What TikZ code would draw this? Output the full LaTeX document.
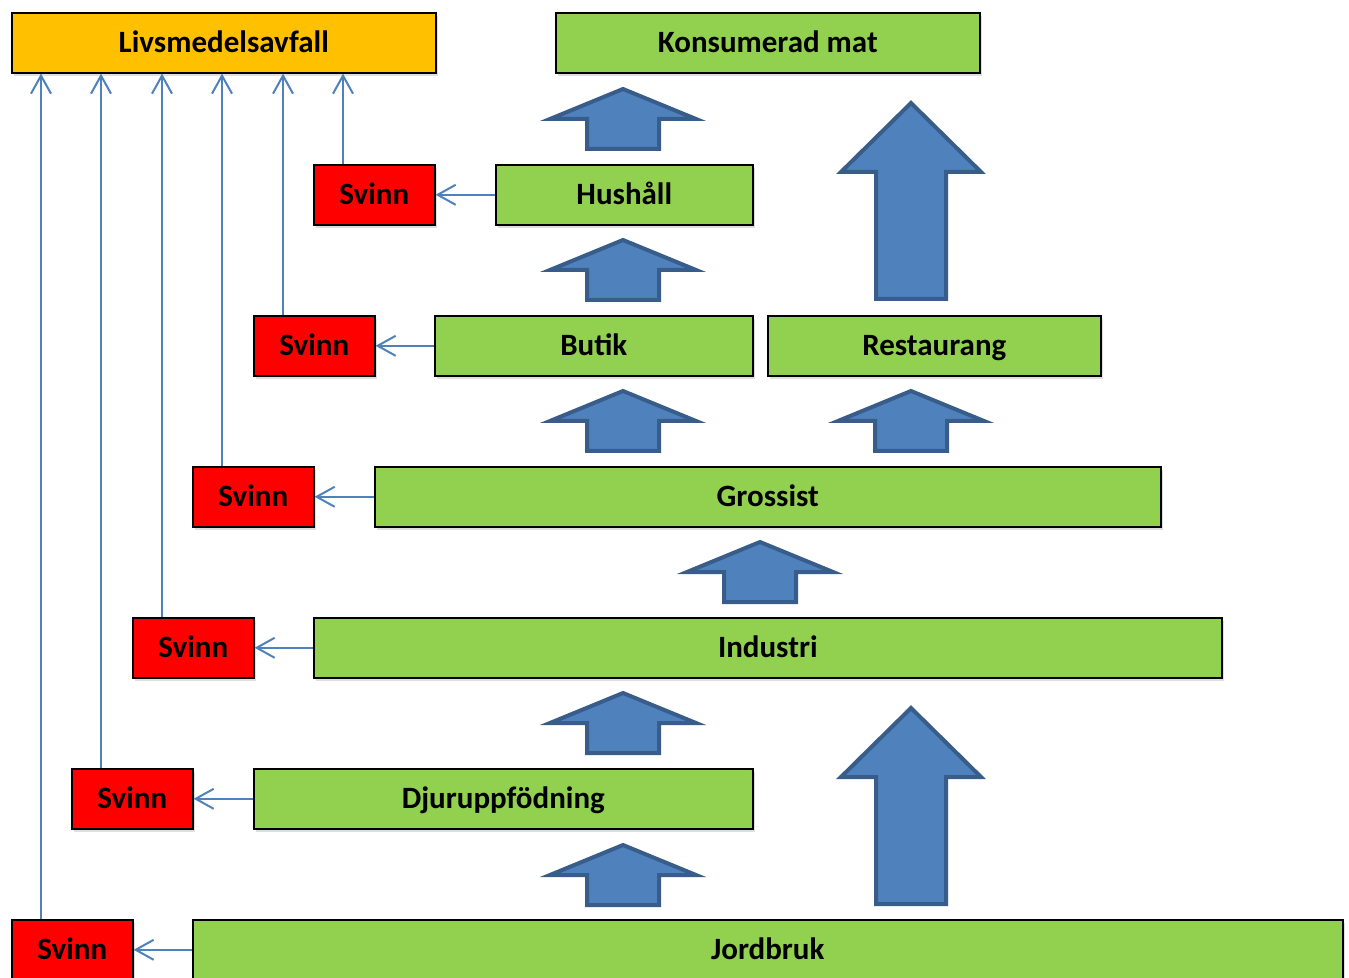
\documentclass[tikz,border=0pt]{standalone}
\usepackage{fontspec}
\setmainfont{Carlito}
\usetikzlibrary{arrows.meta,shadows}

\definecolor{stepgreen}{HTML}{92D050}
\definecolor{wasteorange}{HTML}{FFC000}
\definecolor{lossred}{HTML}{FF0000}
\definecolor{flowblue}{HTML}{4F81BD}
\definecolor{flowedge}{HTML}{385D8A}

\begin{document}
\begin{tikzpicture}[x=0.5pt, y=-0.5pt,
  box/.style={draw=black, line width=0.8pt, minimum height=30pt, anchor=north west,
    inner sep=0pt, text height=12pt, text depth=2pt,
    font=\fontsize{15.5}{18}\selectfont\bfseries,
    drop shadow={opacity=0.25, shadow xshift=1pt, shadow yshift=-1.5pt}},
  stage/.style={box, fill=stepgreen},
  loss/.style={box, fill=lossred, minimum width=60.5pt},
  link/.style={draw=flowblue, line width=1pt, -{Straight Barb[length=9pt, width=10pt, line width=1pt]}},
  flow/.style={fill=flowblue, draw=flowedge, line width=2pt, line join=miter}]

\useasboundingbox (0,0) rectangle (1349,978);

% Top boxes
\node[box, fill=wasteorange, minimum width=212pt] (avfall) at (11,12) {Livsmedelsavfall};
\node[stage, minimum width=212pt] (mat) at (555,12) {Konsumerad mat};

% Chain stages
\node[stage, minimum width=128.5pt] (hushall) at (495,164) {Hushåll};
\node[stage, minimum width=159pt] (butik) at (434,315) {Butik};
\node[stage, minimum width=166.5pt] (restaurang) at (767,315) {Restaurang};
\node[stage, minimum width=393pt] (grossist) at (374,466) {Grossist};
\node[stage, minimum width=454pt] (industri) at (313,617) {Industri};
\node[stage, minimum width=249.5pt] (djur) at (253,768) {Djuruppfödning};
\node[stage, minimum width=575pt] (jordbruk) at (192,919) {Jordbruk};

% Losses
\node[loss] (svinnA) at (313,164) {Svinn};
\node[loss] (svinnB) at (253,315) {Svinn};
\node[loss] (svinnC) at (192,466) {Svinn};
\node[loss] (svinnD) at (132,617) {Svinn};
\node[loss] (svinnE) at (71,768) {Svinn};
\node[loss] (svinnF) at (11,919) {Svinn};

% Stage to loss
\draw[link] (hushall.west) -- (svinnA.east);
\draw[link] (butik.west) -- (svinnB.east);
\draw[link] (grossist.west) -- (svinnC.east);
\draw[link] (industri.west) -- (svinnD.east);
\draw[link] (djur.west) -- (svinnE.east);
\draw[link] (jordbruk.west) -- (svinnF.east);

% Loss to waste
\coordinate (fA) at ([xshift=15pt]svinnA.north west);
\coordinate (fB) at ([xshift=15pt]svinnB.north west);
\coordinate (fC) at ([xshift=15pt]svinnC.north west);
\coordinate (fD) at ([xshift=15pt]svinnD.north west);
\coordinate (fE) at ([xshift=15pt]svinnE.north west);
\coordinate (fF) at ([xshift=15pt]svinnF.north west);
\draw[link] (fA) -- (fA |- avfall.south);
\draw[link] (fB) -- (fB |- avfall.south);
\draw[link] (fC) -- (fC |- avfall.south);
\draw[link] (fD) -- (fD |- avfall.south);
\draw[link] (fE) -- (fE |- avfall.south);
\draw[link] (fF) -- (fF |- avfall.south);

% Block arrows (tip at given point)
\def\smallup#1#2{%
  \begin{scope}[shift={(#1,#2)}]
    \draw[flow] (0,2) -- (73,32) -- (36,32) -- (36,62) -- (-36,62) -- (-36,32) -- (-73,32) -- cycle;
  \end{scope}}
\def\bigup#1#2{%
  \begin{scope}[shift={(#1,#2)}]
    \draw[flow] (0,2) -- (70,71) -- (35,71) -- (35,198) -- (-35,198) -- (-35,71) -- (-70,71) -- cycle;
  \end{scope}}

\smallup{623}{87}
\smallup{623}{238}
\smallup{623}{389}
\smallup{911}{389}
\smallup{760}{540}
\smallup{623}{691}
\smallup{623}{843}
\bigup{911}{101}
\bigup{911}{706}

\end{tikzpicture}
\end{document}
